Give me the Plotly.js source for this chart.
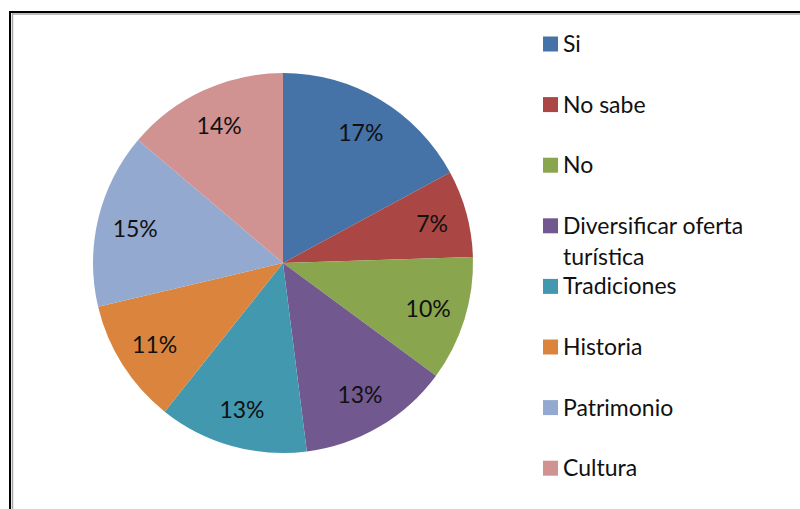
<!DOCTYPE html>
<html>
<head>
<meta charset="utf-8">
<script src="https://cdn.plot.ly/plotly-3.0.1.min.js"></script>
<style>html,body{margin:0;padding:0;background:#fff;}#chart{width:800px;height:509px;}</style>
</head>
<body>
<div id="chart"></div>
<script>
// Data (slice sizes; labels as printed on the chart)
const categories = ["Si", "No sabe", "No", "Diversificar oferta turística", "Tradiciones", "Historia", "Patrimonio", "Cultura"];
const values = [17.1, 7.4, 10.6, 12.9, 12.7, 10.6, 14.9, 13.8];
const valueLabels = ["17%", "7%", "10%", "13%", "13%", "11%", "15%", "14%"];
const legendLines = [["Si"], ["No sabe"], ["No"], ["Diversificar oferta", "turística"], ["Tradiciones"], ["Historia"], ["Patrimonio"], ["Cultura"]];
const colors = ["#4572A7", "#AA4643", "#89A54E", "#71588F", "#4198AF", "#DB843D", "#93A9CF", "#D19392"];

const W = 800, H = 509;
const px = x => x / W;
const py = y => 1 - y / H;

const cx = 283, cy = 263, R = 190;
const domain = { x: [px(cx - R), px(cx + R)], y: [py(cy + R), py(cy - R)] };
const FONT = "Lato, 'Open Sans', sans-serif";

const pie = {
  type: "pie",
  labels: categories,
  values: values,
  sort: false,
  direction: "clockwise",
  rotation: 0,
  marker: { colors: colors, line: { width: 0 } },
  textinfo: "none",
  hoverinfo: "label+percent",
  showlegend: false,
  domain: domain
};

// Transparent ring on top of the pie carrying the data labels, so they sit out toward the rim
const labelRing = {
  type: "pie",
  labels: categories,
  values: values,
  sort: false,
  direction: "clockwise",
  rotation: 0,
  hole: 0.6,
  marker: { colors: categories.map(() => "rgba(0,0,0,0)"), line: { width: 0 } },
  text: valueLabels,
  texttemplate: "%{text}",
  textposition: "inside",
  insidetextorientation: "horizontal",
  textfont: { family: FONT, size: 23, color: "#111" },
  hoverinfo: "skip",
  showlegend: false,
  domain: domain
};

const shapes = [
  // frame
  { type: "line", xref: "paper", yref: "paper", x0: px(9), x1: px(800), y0: py(12), y1: py(12), line: { color: "#000", width: 2 } },
  { type: "line", xref: "paper", yref: "paper", x0: px(12), x1: px(800), y0: py(14), y1: py(14), line: { color: "#a6a6a6", width: 1.5 } },
  { type: "line", xref: "paper", yref: "paper", x0: px(10), x1: px(10), y0: py(11), y1: py(509), line: { color: "#000", width: 2 } },
  { type: "line", xref: "paper", yref: "paper", x0: px(12.5), x1: px(12.5), y0: py(13), y1: py(509), line: { color: "#a6a6a6", width: 1.5 } }
];
const annotations = [];

// Legend (manual, to reproduce the evenly spaced entries)
const legY0 = 44, legStep = 60.6, sq = 15, sqX = 543, txtX = 561, lineStep = 31;
categories.forEach((c, i) => {
  const yc = legY0 + legStep * i;
  shapes.push({ type: "rect", xref: "paper", yref: "paper",
    x0: px(sqX), x1: px(sqX + sq), y0: py(yc + sq / 2), y1: py(yc - sq / 2),
    fillcolor: colors[i], line: { width: 0 } });
  legendLines[i].forEach((t, j) => {
    annotations.push({ xref: "paper", yref: "paper", x: px(txtX), y: py(yc - 1 + j * lineStep),
      xanchor: "left", yanchor: "middle", showarrow: false, text: t,
      font: { family: FONT, size: 23, color: "#111" } });
  });
});

const layout = {
  width: W, height: H,
  margin: { l: 0, r: 0, t: 0, b: 0 },
  paper_bgcolor: "#fff",
  showlegend: false,
  shapes: shapes,
  annotations: annotations
};

Plotly.newPlot("chart", [pie, labelRing], layout, { displayModeBar: false, staticPlot: true });
</script>
</body>
</html>
